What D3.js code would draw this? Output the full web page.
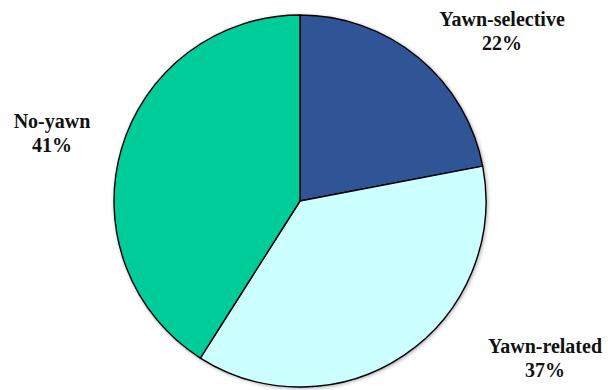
<!DOCTYPE html>
<html>
<head>
<meta charset="utf-8">
<script src="https://cdn.jsdelivr.net/npm/d3@7"></script>
<style>
  html, body { margin: 0; padding: 0; background: #fff; }
  svg { display: block; }
</style>
</head>
<body>
<svg id="chart" width="608" height="390"></svg>
<script>
// Share of neurons by response type
const categories = ["Yawn-selective", "Yawn-related", "No-yawn"];
const values = [22, 37, 41];
const colors = ["#2F5597", "#CCFFFF", "#00CC99"];
// Label anchor points (centre of the two-line label block)
const labelX = [502, 545, 52];
const labelY = [26, 353, 128];

const svg = d3.select("#chart");
const cx = 300, cy = 201, r = 186;

const defs = svg.append("defs");
const f = defs.append("filter").attr("id", "shadow")
  .attr("x", "-10%").attr("y", "-10%").attr("width", "120%").attr("height", "120%");
f.append("feGaussianBlur").attr("in", "SourceAlpha").attr("stdDeviation", 2).attr("result", "b");
f.append("feOffset").attr("in", "b").attr("dx", 1).attr("dy", 1).attr("result", "o");
f.append("feComponentTransfer").attr("in", "o").attr("result", "s")
  .append("feFuncA").attr("type", "linear").attr("slope", 0.45);
const m = f.append("feMerge");
m.append("feMergeNode").attr("in", "s");
m.append("feMergeNode").attr("in", "SourceGraphic");

const pie = d3.pie().sort(null).value(d => d)(values);
const arc = d3.arc().innerRadius(0).outerRadius(r);

const g = svg.append("g").attr("transform", `translate(${cx},${cy})`);
g.append("circle").attr("r", r).attr("fill", "#fff").attr("filter", "url(#shadow)");
g.selectAll("path.slice").data(pie).join("path")
  .attr("class", "slice")
  .attr("d", arc)
  .attr("fill", (d, i) => colors[i])
  .attr("stroke", "#000")
  .attr("stroke-width", 1.4)
  .attr("stroke-linejoin", "round");

// Two text lines per slice: name, then percentage
const lines = pie.flatMap((d, i) => [
  { x: labelX[i], y: labelY[i], t: categories[i] },
  { x: labelX[i], y: labelY[i] + 24, t: d.data + "%" }
]);
svg.append("g").selectAll("text").data(lines).join("text")
  .attr("font-family", "Liberation Serif")
  .attr("font-weight", "bold")
  .attr("font-size", 20)
  .attr("fill", "#111")
  .attr("text-anchor", "middle")
  .attr("x", d => d.x)
  .attr("y", d => d.y)
  .text(d => d.t);
</script>
</body>
</html>
